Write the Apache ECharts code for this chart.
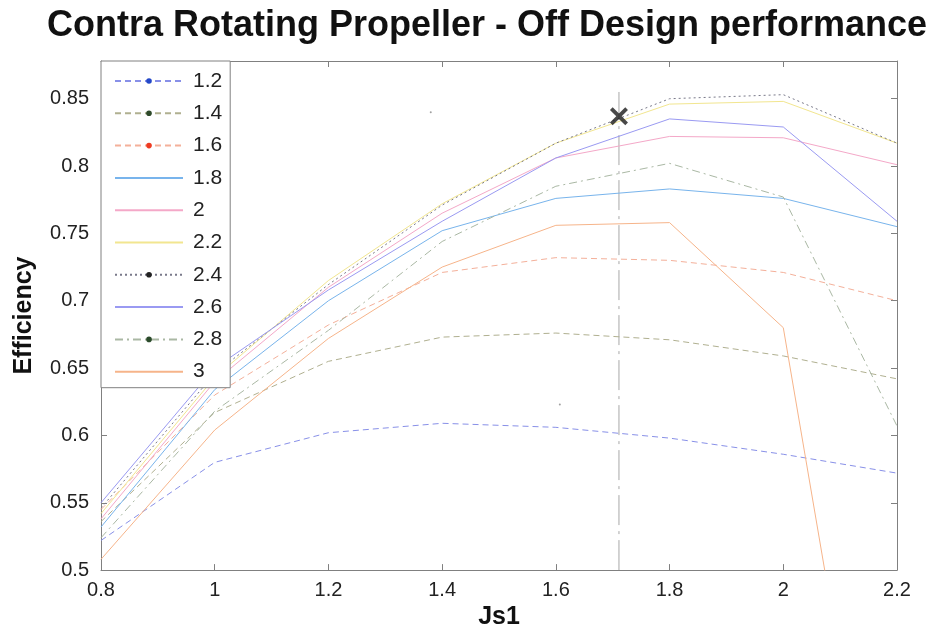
<!DOCTYPE html>
<html>
<head>
<meta charset="utf-8">
<script src="https://cdn.jsdelivr.net/npm/echarts@6/dist/echarts.min.js"></script>
<style>
html,body{margin:0;padding:0;background:#fff;}
#chart{width:940px;height:635px;}
</style>
</head>
<body>
<div id="chart"></div>
<script>
// ---- data ----
const js1 = [0.8, 1.0, 1.2, 1.4, 1.6, 1.8, 2.0, 2.2];
const seriesNames = ['1.2', '1.4', '1.6', '1.8', '2', '2.2', '2.4', '2.6', '2.8', '3'];
const eff_1_2 = [0.522, 0.580, 0.602, 0.609, 0.606, 0.598, 0.586, 0.572];
const eff_1_4 = [0.536, 0.617, 0.655, 0.673, 0.676, 0.671, 0.659, 0.642];
const eff_1_6 = [0.545, 0.630, 0.682, 0.721, 0.732, 0.730, 0.721, 0.700];
const eff_1_8 = [0.532, 0.634, 0.700, 0.752, 0.776, 0.783, 0.776, 0.755];
const eff_2_0 = [0.538, 0.640, 0.710, 0.765, 0.806, 0.822, 0.821, 0.801];
const eff_2_2 = [0.542, 0.643, 0.715, 0.772, 0.817, 0.846, 0.848, 0.817];
const eff_2_4 = [0.546, 0.646, 0.712, 0.771, 0.817, 0.850, 0.853, 0.817];
const eff_2_6 = [0.550, 0.650, 0.708, 0.759, 0.806, 0.835, 0.829, 0.759];
const eff_2_8 = [0.524, 0.618, 0.678, 0.744, 0.785, 0.802, 0.777, 0.607];
const eff_3_0 = [0.508, 0.604, 0.672, 0.725, 0.756, 0.758, 0.680, 0.186];
const designJs1 = 1.711;
const designEff = 0.837;
const designLineTop = 0.855;
const strayPoints = [[1.380, 0.840], [1.607, 0.623]];

const allEff = [eff_1_2, eff_1_4, eff_1_6, eff_1_8, eff_2_0, eff_2_2, eff_2_4, eff_2_6, eff_2_8, eff_3_0];

// ---- styles ----
const styles = [
  {color: '#8890e8', type: [6, 4], marker: '#2448c8'},
  {color: '#b0b090', type: [6, 4], marker: '#2e4a2a'},
  {color: '#f4b09a', type: [6, 4], marker: '#ee3b22'},
  {color: '#78b4ec', type: 'solid', marker: null},
  {color: '#f4a8c8', type: 'solid', marker: null},
  {color: '#f2e690', type: 'solid', marker: null},
  {color: '#7a7a8a', type: [2, 3], marker: '#222222'},
  {color: '#9a9af2', type: 'solid', marker: null},
  {color: '#aab8a4', type: [8, 4, 2, 4], marker: '#2a4a2a'},
  {color: '#f6b48a', type: 'solid', marker: null}
];

const FONT = "'Liberation Sans', Arial, Helvetica, sans-serif";
const chart = echarts.init(document.getElementById('chart'), null, {renderer: 'canvas'});

const series = seriesNames.map((name, i) => {
  const st = styles[i];
  return {
    name: name,
    type: 'line',
    data: js1.map((x, k) => [x, allEff[i][k]]),
    symbol: st.marker ? 'circle' : 'none',
    symbolSize: 2,
    showSymbol: false,
    itemStyle: {color: st.marker || st.color},
    lineStyle: {color: st.color, width: 1, type: st.type},
    clip: true,
    silent: true,
    animation: false,
    z: 2
  };
});

series.push({
  name: 'design',
  type: 'line',
  data: [[designJs1, 0.5], [designJs1, designLineTop]],
  symbol: 'none',
  lineStyle: {color: '#a8a8a8', width: 1, type: [30, 6, 3, 6]},
  silent: true, animation: false, z: 1
});
series.push({
  name: 'stray',
  type: 'scatter',
  data: strayPoints,
  symbol: 'circle',
  symbolSize: 2,
  itemStyle: {color: '#888'},
  silent: true, animation: false
});
series.push({
  name: 'point',
  type: 'scatter',
  data: [[designJs1, designEff]],
  symbol: 'path://M1.5,0 L5,3.5 L8.5,0 L10,1.5 L6.5,5 L10,8.5 L8.5,10 L5,6.5 L1.5,10 L0,8.5 L3.5,5 L0,1.5 Z',
  symbolSize: 18,
  itemStyle: {color: '#1a1a1a'},
  silent: true, animation: false, z: 5
});

const legendData = seriesNames.map((name, i) => {
  const st = styles[i];
  const item = {name: name};
  if (st.marker) {
    item.itemStyle = {color: st.marker};
  } else {
    item.itemStyle = {opacity: 0};
  }
  return item;
});

const axisColor = '#808080';
const labelStyle = {fontSize: 20, color: '#222', fontFamily: FONT};

const option = {
  backgroundColor: '#ffffff',
  animation: false,
  title: {
    text: 'Contra Rotating Propeller - Off Design performance',
    left: 47, top: 8, padding: 0,
    textStyle: {fontSize: 36, fontWeight: 'bold', color: '#111', fontFamily: FONT}
  },
  legend: {
    data: legendData,
    orient: 'vertical',
    left: 101, top: 61,
    itemWidth: 68, itemHeight: 7, itemGap: 10.3,
    padding: [9, 8, 5, 13],
    backgroundColor: '#ffffff',
    borderColor: axisColor, borderWidth: 1,
    textStyle: {fontSize: 21, lineHeight: 22, color: '#222', fontFamily: FONT, padding: [0, 0, 0, 5]},
    selectedMode: false,
    z: 10
  },
  grid: {left: 101, right: 43, top: 61, bottom: 64, containLabel: false},
  xAxis: [{
    type: 'value', min: 0.8, max: 2.2, interval: 0.2, position: 'bottom',
    name: 'Js1', nameLocation: 'middle', nameGap: 29,
    nameTextStyle: {fontSize: 25, fontWeight: 'bold', color: '#111', fontFamily: FONT},
    axisLine: {show: true, lineStyle: {color: axisColor, width: 1}},
    axisTick: {show: true, inside: true, length: 6, lineStyle: {color: axisColor}},
    axisLabel: Object.assign({margin: 10, formatter: v => String(+v.toFixed(2))}, labelStyle),
    splitLine: {show: false}
  }, {
    type: 'value', min: 0.8, max: 2.2, interval: 0.2, position: 'top',
    axisLine: {show: true, lineStyle: {color: axisColor, width: 1}},
    axisTick: {show: true, inside: true, length: 6, lineStyle: {color: axisColor}},
    axisLabel: {show: false}, splitLine: {show: false}
  }],
  yAxis: [{
    type: 'value', min: 0.5, max: 0.878, interval: 0.05, position: 'left',
    name: 'Efficiency', nameLocation: 'middle', nameGap: 64, nameRotate: 90,
    nameTextStyle: {fontSize: 25, fontWeight: 'bold', color: '#111', fontFamily: FONT},
    axisLine: {show: true, lineStyle: {color: axisColor, width: 1}},
    axisTick: {show: true, inside: true, length: 6, lineStyle: {color: axisColor}},
    axisLabel: Object.assign({margin: 12, showMaxLabel: false, formatter: v => String(+v.toFixed(2))}, labelStyle),
    splitLine: {show: false}
  }, {
    type: 'value', min: 0.5, max: 0.878, interval: 0.05, position: 'right',
    axisLine: {show: true, lineStyle: {color: axisColor, width: 1}},
    axisTick: {show: true, inside: true, length: 6, lineStyle: {color: axisColor}},
    axisLabel: {show: false}, splitLine: {show: false}
  }],
  series: series
};
chart.setOption(option);
</script>
</body>
</html>
